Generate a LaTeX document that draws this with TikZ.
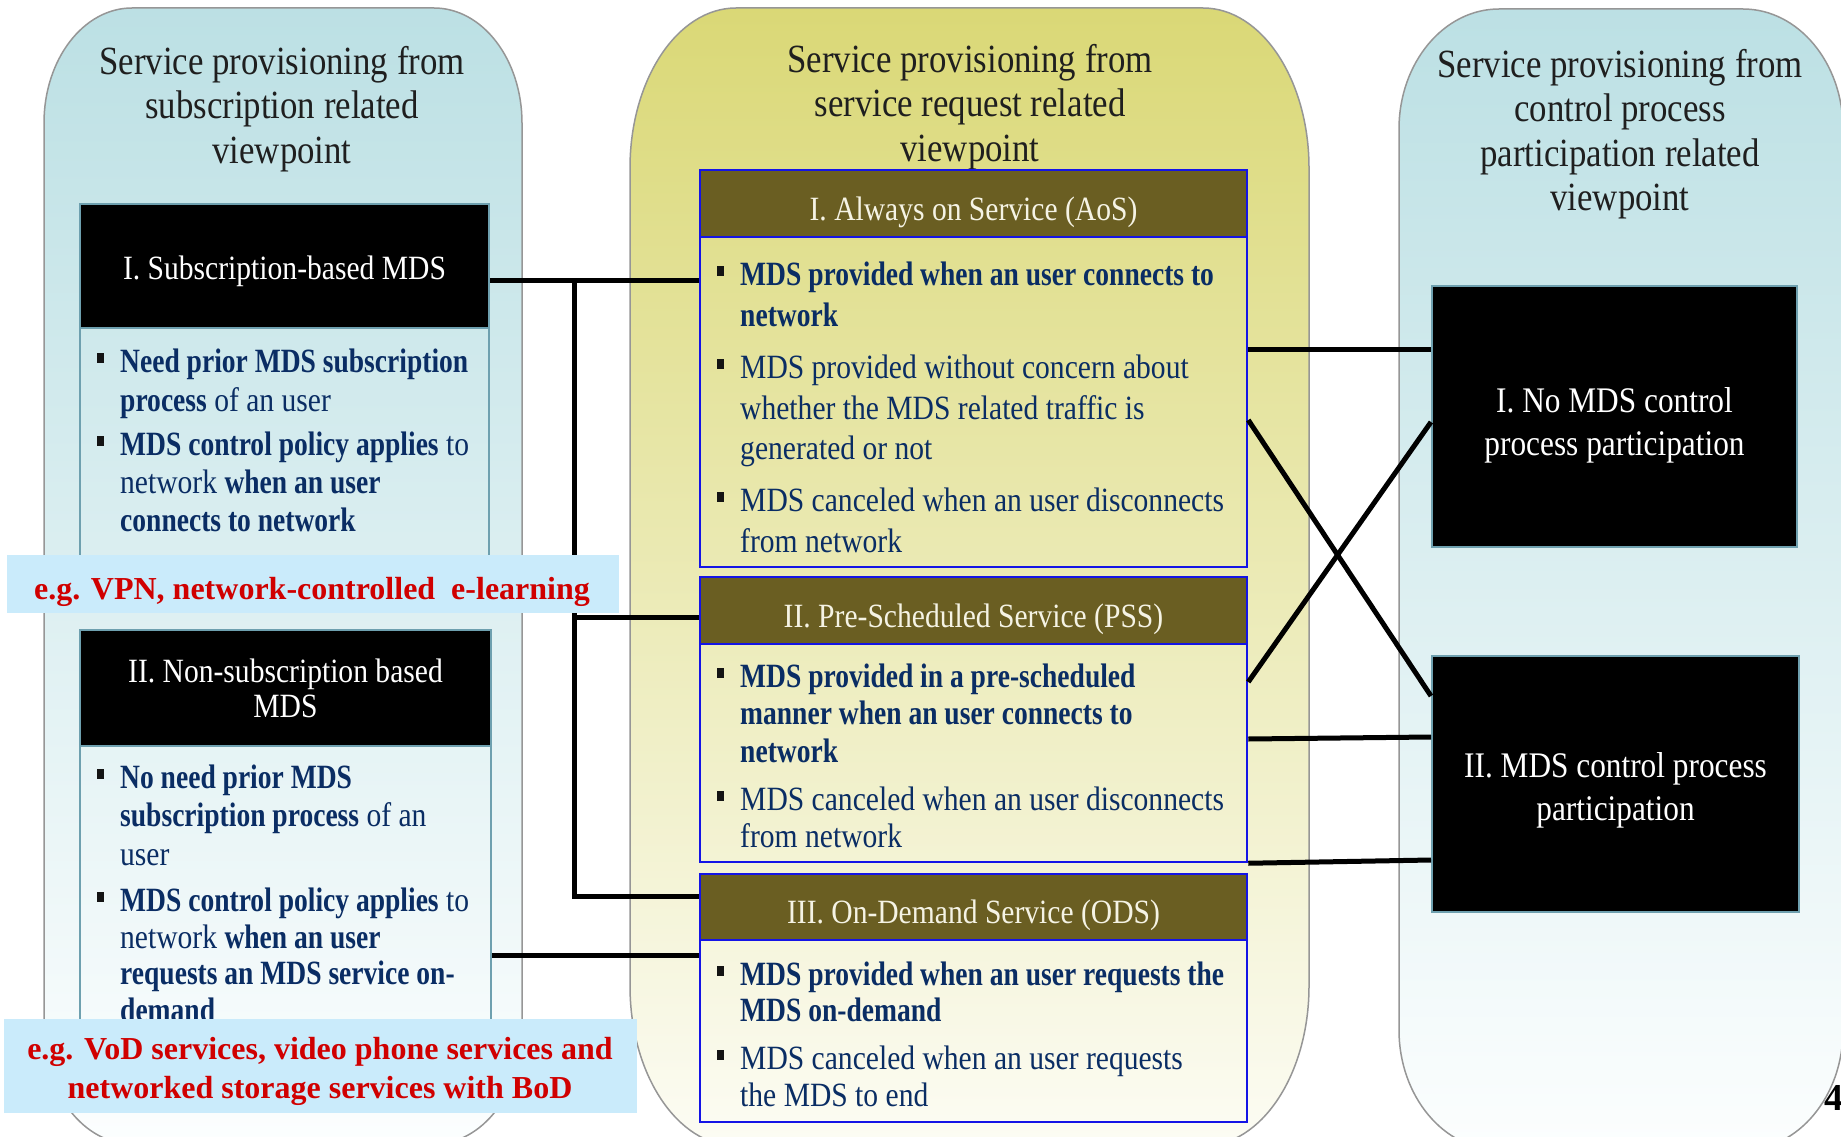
\documentclass[tikz,border=0pt]{standalone}
\usepackage{fontspec}
\setmainfont{Liberation Serif}
\newfontfamily\cfr[FakeStretch=0.87]{Liberation Serif}
\newfontfamily\cfb[FakeStretch=0.81]{Liberation Serif}
\newcommand\bb[1]{{\cfb\bfseries #1}}
\definecolor{pgray}{RGB}{150,150,150}
\definecolor{lteal}{RGB}{188,224,228}
\definecolor{ltealb}{RGB}{252,254,254}
\definecolor{myel}{RGB}{218,216,118}
\definecolor{myelb}{RGB}{252,252,244}
\definecolor{boxteal}{RGB}{110,160,175}
\definecolor{bordblue}{RGB}{20,20,230}
\definecolor{olivehd}{RGB}{106,94,34}
\definecolor{hdtext}{RGB}{245,243,228}
\definecolor{navytx}{RGB}{10,45,100}
\definecolor{bannerbg}{RGB}{202,235,251}
\definecolor{bannerred}{RGB}{208,0,0}
\definecolor{bulletc}{RGB}{20,20,20}
\newcommand\panelshape[7]{%
 \path[#1] (#2,{#3+#7}) .. controls (#2,{#3+0.448*#7}) and ({#2+0.448*#6},#3) .. ({#2+#6},#3)
  -- ({#4-#6},#3) .. controls ({#4-0.448*#6},#3) and (#4,{#3+0.448*#7}) .. (#4,{#3+#7})
  -- (#4,{#5-#7}) .. controls (#4,{#5-0.448*#7}) and ({#4-0.448*#6},#5) .. ({#4-#6},#5)
  -- ({#2+#6},#5) .. controls ({#2+0.448*#6},#5) and (#2,{#5-0.448*#7}) .. (#2,{#5-#7}) -- cycle;}
\newcommand\bul[2]{\fill[bulletc] ({#1-3.5},{#2-5}) rectangle ({#1+3.5},{#2+5});}
\tikzset{
 panelln/.style={draw=pgray, line width=1.5},
 hdrblack/.style={draw=boxteal, line width=2.5, fill=black, text=white, inner sep=0,
   font=\cfr\fontsize{34}{35}\selectfont, align=center},
 bodybox/.style={draw=boxteal, line width=2.5, inner sep=0},
 hdrolive/.style={draw=bordblue, line width=2.5, fill=olivehd, text=hdtext, inner sep=0,
   font=\cfr\fontsize{34}{35}\selectfont, text height=34pt, text depth=1pt},
 bodyblue/.style={draw=bordblue, line width=2.5, inner sep=0},
 ctrlbox/.style={draw=boxteal, line width=2, fill=black, text=white, inner sep=0,
   font=\cfr\fontsize{36}{43}\selectfont, align=center},
 titletx/.style={anchor=north, align=center, inner sep=0, text=black!88,
   font=\cfr\fontsize{40}{44.5}\selectfont},
 btxt/.style={anchor=north west, align=left, inner sep=0, text=navytx,
   font=\cfr\fontsize{34}{#1}\selectfont},
 bannerbox/.style={fill=bannerbg, draw=none, inner sep=0},
 bantext/.style={text=bannerred, inner sep=0, align=center,
   font=\fontsize{32}{39}\selectfont\bfseries},
 conn/.style={line width=5, draw=black},
}
\begin{document}
\begin{tikzpicture}[x=1pt,y=-1pt]
\useasboundingbox (0,0) rectangle (1841,1137);
\clip (0,0) rectangle (1841,1137);
\fill[white] (0,0) rectangle (1841,1137);
% panels
\panelshape{panelln, top color=lteal, bottom color=ltealb}{44}{8}{522}{1144}{88}{115}
\panelshape{panelln, top color=myel, bottom color=myelb}{630}{8}{1309}{1146}{106}{160}
\panelshape{panelln, top color=lteal, bottom color=ltealb}{1399}{9}{1843}{1150}{100}{120}
% titles
\node[titletx] (t1) at (282,43) {\strut Service provisioning from\\subscription related\\viewpoint};
\node[titletx] (t2) at (970,41) {\strut Service provisioning from\\service request related\\viewpoint};
\node[titletx] (t3) at (1620,46) {\strut Service provisioning from\\control process\\participation related\\viewpoint};
% left boxes
\node[hdrblack, minimum width=409, minimum height=124, text height=27pt, text depth=1pt] (subhdr) at (284.5,266) {I. Subscription-based MDS};
\node[bodybox, minimum width=409, minimum height=272] (subbody) at (284.5,464) {};
\node[hdrblack, minimum width=411, minimum height=116] (nshdr) at (285.5,688) {II. Non-subscription based\\MDS};
\node[bodybox, minimum width=411, minimum height=354] (nsbody) at (285.5,923) {};
% middle boxes
\node[hdrolive, minimum width=547, minimum height=67] (aoshdr) at (973.5,203.5) {I. Always on Service (AoS)};
\node[bodyblue, minimum width=547, minimum height=330] (aosbody) at (973.5,402) {};
\node[hdrolive, minimum width=547, minimum height=67] (psshdr) at (973.5,610.5) {II. Pre-Scheduled Service (PSS)};
\node[bodyblue, minimum width=547, minimum height=218] (pssbody) at (973.5,753) {};
\node[hdrolive, minimum width=547, minimum height=66] (odshdr) at (973.5,907) {III. On-Demand Service (ODS)};
\node[bodyblue, minimum width=547, minimum height=182] (odsbody) at (973.5,1031) {};
% right boxes
\node[ctrlbox, minimum width=365, minimum height=261] (nocp) at (1614.5,416.5) {\rule{0pt}{42pt}I. No MDS control\\process participation};
\node[ctrlbox, minimum width=367, minimum height=256] (cp) at (1615.5,784) {\rule{0pt}{38pt}II. MDS control process\\participation};
% connectors
\coordinate (j1) at (574,280);
\coordinate (j2) at (574,617);
\coordinate (j3) at (574,896);
\draw[conn] (subhdr.east |- j1) -- (aosbody.west |- j1);
\draw[conn, line join=miter] (j1) -- (j3) -- (odshdr.west |- j3);
\draw[conn] (j2) -- (psshdr.west |- j2);
\draw[conn] (nsbody.east |- 0,955) -- (odsbody.west |- 0,955);
\draw[conn] (aosbody.east |- 0,349) -- (nocp.west |- 0,349);
\draw[conn] (aosbody.east |- 0,420) -- (cp.west |- 0,696);
\draw[conn] (pssbody.east |- 0,682) -- (nocp.west |- 0,422);
\draw[conn] (pssbody.east |- 0,739) -- (cp.west |- 0,737);
\draw[conn] (pssbody.south east) -- (cp.west |- 0,860);
% bullets left
\bul{100}{358}\bul{100}{441}\bul{100}{774}\bul{100}{897}
\node[btxt=39] (lb1) at (120,345) {\strut\bb{Need prior MDS subscription}\\\bb{process} of an user};
\node[btxt=38] (lb2) at (120,428.6) {\strut\bb{MDS control policy applies} to\\network \bb{when an user}\\\bb{connects to network}};
\node[btxt=38.5] (lb3) at (120,761) {\strut\bb{No need prior MDS}\\\bb{subscription process} of an\\user};
\node[btxt=36.7] (lb4) at (120,885.5) {\strut\bb{MDS control policy applies} to\\network \bb{when an user}\\\bb{requests an MDS service on-}\\\bb{demand}};
% bullets middle
\bul{720}{271}\bul{720}{364}\bul{720}{497}\bul{720}{673}\bul{720}{796}\bul{720}{971}\bul{720}{1055}
\node[btxt=41] (ab1) at (740,256.5) {\strut\bb{MDS provided when an user connects to}\\\bb{network}};
\node[btxt=40.5] (ab2) at (740,350) {\strut MDS provided without concern about\\whether the MDS related traffic is\\generated or not};
\node[btxt=41] (ab3) at (740,482.5) {\strut MDS canceled when an user disconnects\\from network};
\node[btxt=37.5] (pb1) at (740,661) {\strut\bb{MDS provided in a pre-scheduled}\\\bb{manner when an user connects to}\\\bb{network}};
\node[btxt=37] (pb2) at (740,784.3) {\strut MDS canceled when an user disconnects\\from network};
\node[btxt=36] (ob1) at (740,960) {\strut\bb{MDS provided when an user requests the}\\\bb{MDS on-demand}};
\node[btxt=37] (ob2) at (740,1043.3) {\strut MDS canceled when an user requests\\the MDS to end};
% banners
\node[bannerbox, minimum width=612, minimum height=58] (ex1) at (313,584) {};
\node[bantext, anchor=base] (ex1t) at (312,599) {e.g. VPN, network-controlled~ e-learning};
\node[bannerbox, minimum width=633, minimum height=94] (ex2) at (320.5,1066) {};
\node[bantext, anchor=north] (ex2t) at (320,1032) {\strut e.g. VoD services, video phone services and\\networked storage services with BoD};
% page number
\node[anchor=base west, inner sep=0, font=\fontsize{38}{40}\selectfont\bfseries] (pg) at (1824,1110) {4};
\end{tikzpicture}
\end{document}
